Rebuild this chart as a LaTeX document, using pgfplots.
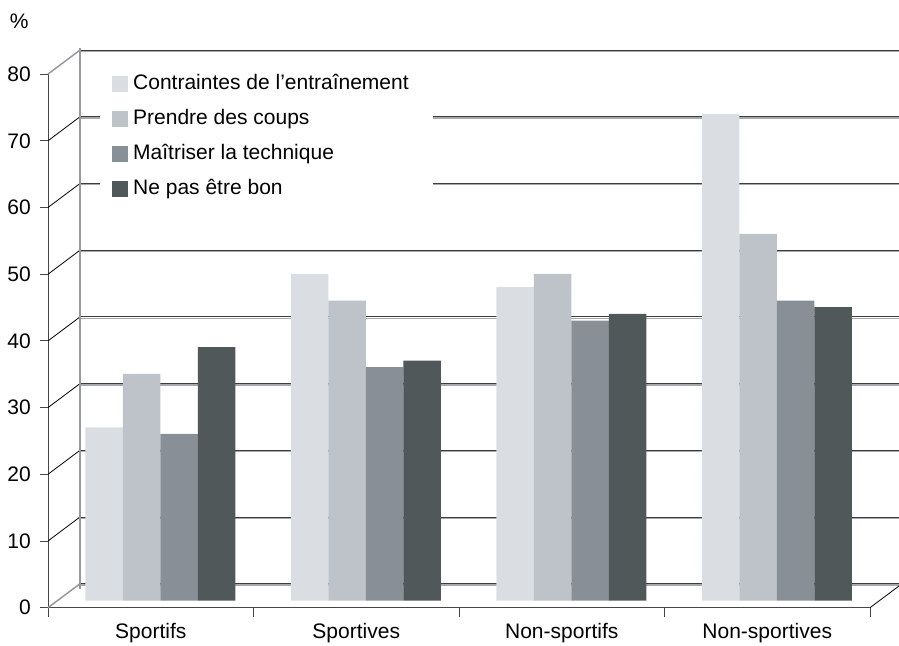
\documentclass[border=0pt]{standalone}
\usepackage{pgfplots}
\pgfplotsset{compat=1.18}
\usepackage{fontspec}
\setmainfont{Liberation Sans}
\definecolor{c1}{RGB}{218,221,225}
\definecolor{c2}{RGB}{190,194,201}
\definecolor{c3}{RGB}{137,143,150}
\definecolor{c4}{RGB}{81,88,89}
\definecolor{axisdark}{RGB}{70,70,70}
\definecolor{griddark}{RGB}{60,60,60}
\definecolor{gridlight}{RGB}{165,168,172}
\definecolor{wallgray}{RGB}{150,154,160}
\begin{document}
\fontsize{21}{25}\selectfont
\begin{tikzpicture}
\useasboundingbox (0,0) rectangle (899pt,645pt);
\begin{axis}[
  at={(48pt,37.3pt)}, anchor=south west,
  scale only axis, width=822pt, height=533.6pt,
  xmin=0, xmax=4, ymin=0, ymax=80, clip=false,
  axis lines*=left, axis line style={-, draw=axisdark, line width=1pt},
  tick align=outside,
  xtick={0.5,1.5,2.5,3.5},
  xticklabels={Sportifs,Sportives,Non-sportifs,Non-sportives},
  minor xtick={0,1,2,3,4},
  minor tick length=9pt,
  ytick={0,10,...,80}, major tick length=8pt,
  tick style={draw=axisdark, line width=1pt},
  major x tick style={draw=none},
  ylabel={\%},
  ylabel style={rotate=-90, at={(axis description cs:-0.035,1.0995)}, anchor=center},
  /pgf/number format/assume math mode=true,
  ticklabel style={font=\fontsize{21}{25}\selectfont},
  yticklabel style={xshift=-2pt},
  label style={font=\fontsize{21}{25}\selectfont},
]
\pgfplotsinvokeforeach{0,10,20,30,40,50,60,70,80}{
  \draw[gridlight, line width=1.3pt] ([yshift=-1.3pt]axis cs:0.1557,{#1+3.6}) -- ([yshift=-1.3pt]axis cs:4.3,{#1+3.6});
  \draw[griddark, line width=0.9pt] (axis cs:0.1557,{#1+3.6}) -- (axis cs:4.3,{#1+3.6});
}
\pgfplotsinvokeforeach{10,20,30,40,50,60,70}{
  \draw[black, line width=0.8pt] (axis cs:0,#1) -- (axis cs:0.1557,{#1+3.6});
}
\draw[wallgray, line width=1.5pt] (axis cs:0,0) -- (axis cs:0.1557,3.6);
\draw[wallgray, line width=1.5pt] (axis cs:0,80) -- (axis cs:0.1557,83.6);
\draw[black, line width=0.8pt] (axis cs:4,0) -- (axis cs:4.1557,3.6);
\draw[wallgray, line width=2.5pt] (axis cs:0.1557,2.8) -- (axis cs:0.1557,83.9);
\fill[white] (axis cs:0.253,58.9) rectangle (axis cs:1.8735,82.1);
\end{axis}
\begin{axis}[
  at={(57.6pt,44.3pt)}, anchor=south west,
  scale only axis, width=822pt, height=533.6pt,
  xmin=0, xmax=4, ymin=0, ymax=80, clip=false,
  hide axis,
  ybar=0pt, bar width=37.5pt,
  legend cell align=left,
  legend style={at={(axis description cs:0.0662,0.988)}, anchor=north west,
    draw=none, fill=none, inner sep=0pt, row sep=14pt, column sep=5pt,
    font=\fontsize{21}{25}\selectfont,
    nodes={inner sep=0pt, text height=16pt, text depth=5pt}},
  legend image code/.code={\fill[#1] (0pt,-8pt) rectangle (16pt,8pt);},
]
\addplot[fill=c1, draw=none] coordinates {(0.5,26) (1.5,49) (2.5,47) (3.5,73)};
\addplot[fill=c2, draw=none] coordinates {(0.5,34) (1.5,45) (2.5,49) (3.5,55)};
\addplot[fill=c3, draw=none] coordinates {(0.5,25) (1.5,35) (2.5,42) (3.5,45)};
\addplot[fill=c4, draw=none] coordinates {(0.5,38) (1.5,36) (2.5,43) (3.5,44)};
\legend{Contraintes de l’entraînement, Prendre des coups, Maîtriser la technique, Ne pas être bon}
\end{axis}
\end{tikzpicture}
\end{document}
